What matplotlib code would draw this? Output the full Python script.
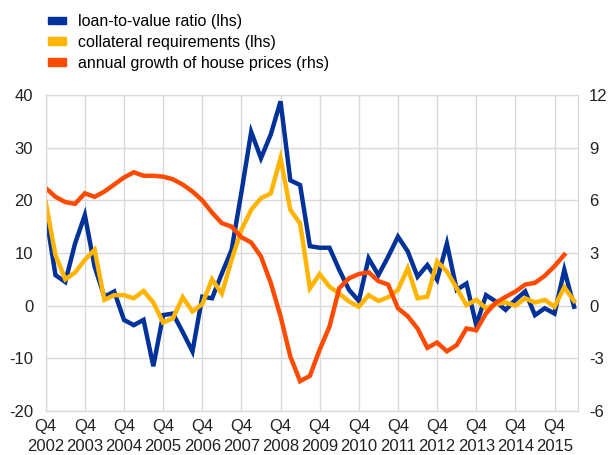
import matplotlib.pyplot as plt
from matplotlib.patches import Patch

# quarterly data, Q4 2002 .. Q2 2016
ltv = [17.5, 5.8, 4.5, 11.8, 17.2, 7.4, 1.7, 2.7, -2.7, -3.7, -2.7, -11.5, -1.8, -1.5,
       -5.0, -8.7, 1.7, 1.4, 6.1, 10.6, 21.5, 33.0, 28.0, 32.5, 38.8, 23.8, 22.9, 11.3,
       11.0, 11.0, 6.8, 3.0, 0.9, 9.0, 5.8, 9.3, 13.1, 10.3, 5.5, 7.7, 4.9, 11.8, 3.0,
       4.2, -3.7, 2.0, 0.8, -0.8, 1.1, 2.7, -1.8, -0.5, -1.5, 6.8, -0.2]
collateral = [19.7, 9.6, 5.0, 6.3, 8.7, 10.6, 1.1, 2.0, 2.0, 1.4, 2.8, 0.6, -3.2, -2.4,
              1.6, -1.1, 0.3, 5.0, 2.3, 8.7, 14.4, 18.2, 20.4, 21.3, 28.0, 18.2, 15.6, 3.3,
              6.0, 3.6, 2.3, 0.8, -0.2, 2.0, 0.9, 1.6, 3.0, 7.1, 1.4, 1.7, 8.4, 6.5, 3.3,
              0.1, 1.1, -0.5, 0.3, 0.6, 0.0, 1.4, 0.6, 1.1, -0.2, 3.5, 0.9]
house_prices = [6.7, 6.2, 5.9, 5.8, 6.4, 6.2, 6.5, 6.9, 7.3, 7.6, 7.4, 7.4, 7.35, 7.2,
                6.9, 6.5, 6.0, 5.3, 4.7, 4.5, 3.9, 3.6, 2.8, 1.3, -0.6, -2.9, -4.3, -4.0,
                -2.5, -1.2, 1.0, 1.56, 1.8, 1.9, 1.4, 1.2, -0.15, -0.6, -1.3, -2.4, -2.1,
                -2.6, -2.25, -1.3, -1.4, -0.44, 0.17, 0.5, 0.8, 1.2, 1.3, 1.7, 2.25, 2.9]
years = list(range(2002, 2016))

blue = '#003299'
yellow = '#FFB400'
orange = '#FF4B00'
grey = '#d9d9d9'

plt.rcParams['font.family'] = ['Liberation Sans', 'DejaVu Sans']
plt.rcParams['axes.unicode_minus'] = False

fig = plt.figure(figsize=(6.11, 4.55), dpi=100)
ax = fig.add_axes([0.0748, 0.0967, 0.8712, 0.6945])
ax2 = ax.twinx()

ax.plot(range(len(ltv)), ltv, color=blue, lw=3.2, solid_joinstyle='miter', zorder=3)
ax.plot(range(len(collateral)), collateral, color=yellow, lw=3.2, solid_joinstyle='miter', zorder=3)
ax2.plot(range(len(house_prices)), house_prices, color=orange, lw=3.2, solid_joinstyle='miter')

ax.set_ylim(-20, 40)
ax.set_yticks(range(-20, 41, 10))
ax2.set_ylim(-6, 12)
ax2.set_yticks(range(-6, 13, 3))
ax.set_xlim(0, 54.4)
ax.set_xticks([4 * i for i in range(len(years))])
ax.set_xticklabels(['Q4\n%d' % y for y in years])

ax.grid(True, color=grey, lw=1)
ax.set_axisbelow(True)
for a in (ax, ax2):
    for s in a.spines.values():
        s.set_color(grey)
    a.tick_params(length=0, labelsize=12, colors='#222222')
ax.tick_params(axis='y', pad=9)
ax2.tick_params(axis='y', pad=8)
ax.tick_params(axis='x', pad=6)
for lbl in ax.get_xticklabels():
    lbl.set_linespacing(1.35)

handles = [Patch(color=blue), Patch(color=yellow), Patch(color=orange)]
labels = ['loan-to-value ratio (lhs)', 'collateral requirements (lhs)',
          'annual growth of house prices (rhs)']
fig.legend(handles, labels, loc='upper left', bbox_to_anchor=(0.055, 1.0),
           frameon=False, fontsize=11.5, handlelength=1.1, handleheight=0.35,
           handletextpad=0.75, labelspacing=0.35)

fig.savefig('out.png', dpi=100)
